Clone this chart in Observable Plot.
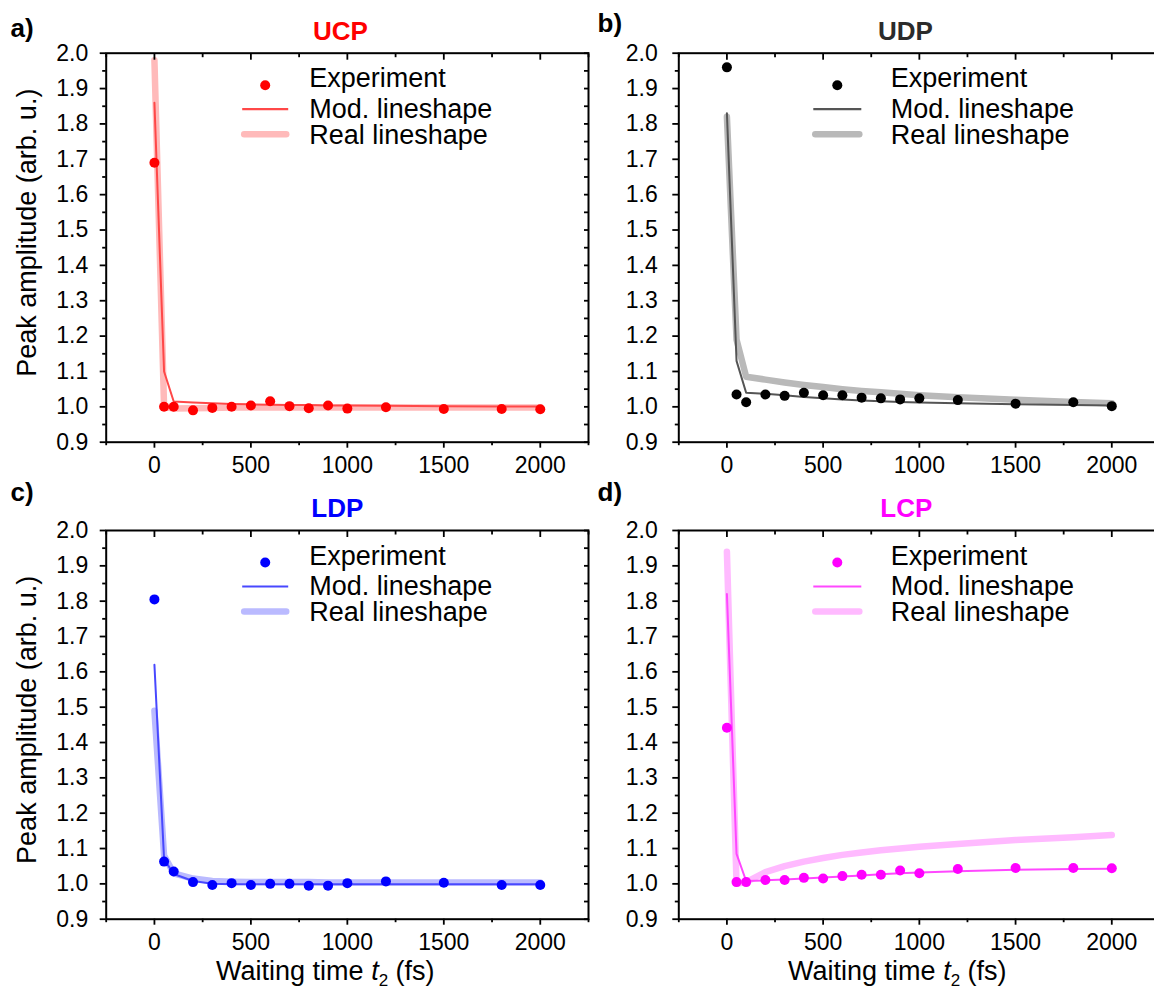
<!DOCTYPE html>
<html><head><meta charset="utf-8">
<script src="https://cdn.jsdelivr.net/npm/d3@7"></script>
<script src="https://cdn.jsdelivr.net/npm/@observablehq/plot@0.6"></script>
<style>
html,body{margin:0;padding:0;background:#fff;}
#root{position:relative;width:1154px;height:994px;overflow:hidden;background:#fff;}
#root > svg{position:absolute;}
</style></head><body><div id="root"></div>
<script>
// ---------- data ----------
const waitingTime = [0, 50, 100, 200, 300, 400, 500, 600, 700, 800, 900, 1000, 1200, 1500, 1800, 2000];

const ucpExperiment = [1.69, 1.000, 1.000, 0.990, 0.997, 1.000, 1.004, 1.016, 1.002, 0.996, 1.004, 0.995, 0.999, 0.994, 0.994, 0.993];
const ucpModLineshape = [1.86, 1.10, 1.015, 1.012, 1.010, 1.008, 1.007, 1.006, 1.005, 1.005, 1.004, 1.004, 1.003, 1.002, 1.001, 1.001];
const ucpRealLineshape = [1.98, 1.00, 0.995, 0.996, 0.997, 0.998, 0.998, 0.998, 0.998, 0.998, 0.998, 0.998, 0.998, 0.998, 0.998, 0.998];

const udpExperiment = [1.96, 1.035, 1.013, 1.035, 1.031, 1.040, 1.033, 1.033, 1.026, 1.024, 1.021, 1.024, 1.019, 1.009, 1.013, 1.002];
const udpModLineshape = [1.83, 1.13, 1.04, 1.037, 1.033, 1.028, 1.024, 1.021, 1.018, 1.016, 1.014, 1.012, 1.010, 1.007, 1.005, 1.004];
const udpRealLineshape = [1.82, 1.19, 1.085, 1.077, 1.069, 1.062, 1.056, 1.050, 1.045, 1.041, 1.037, 1.033, 1.027, 1.020, 1.014, 1.010];

const ldpExperiment = [1.805, 1.063, 1.035, 1.005, 0.997, 1.002, 0.997, 1.000, 1.000, 0.995, 0.995, 1.002, 1.007, 1.003, 0.997, 0.997];
const ldpModLineshape = [1.62, 1.07, 1.028, 1.008, 1.000, 0.999, 0.999, 0.999, 0.999, 0.999, 0.999, 0.999, 0.999, 0.999, 0.999, 0.999];
const ldpRealLineshape = [1.49, 1.08, 1.030, 1.015, 1.008, 1.006, 1.005, 1.005, 1.005, 1.005, 1.004, 1.004, 1.004, 1.004, 1.004, 1.004];

const lcpExperiment = [1.442, 1.005, 1.005, 1.011, 1.011, 1.017, 1.015, 1.022, 1.026, 1.026, 1.038, 1.030, 1.042, 1.045, 1.045, 1.044];
const lcpModLineshape = [1.82, 1.085, 1.008, 1.010, 1.012, 1.015, 1.018, 1.021, 1.024, 1.027, 1.030, 1.032, 1.036, 1.040, 1.042, 1.043];
const lcpRealLineshape = [1.94, 1.00, 1.005, 1.033, 1.050, 1.063, 1.073, 1.082, 1.089, 1.095, 1.100, 1.105, 1.113, 1.124, 1.132, 1.138];

const panelNames = ["UCP", "UDP", "LDP", "LCP"];
const panelLetters = ["a)", "b)", "c)", "d)"];
const legendLabels = ["Experiment", "Mod. lineshape", "Real lineshape"];
const xMajorTicks = [0, 500, 1000, 1500, 2000];
const xMinorTicks = [-250, 250, 750, 1250, 1750, 2250];
const yMajorTicks = [0.9, 1.0, 1.1, 1.2, 1.3, 1.4, 1.5, 1.6, 1.7, 1.8, 1.9, 2.0];
const yMinorTicks = [0.95, 1.05, 1.15, 1.25, 1.35, 1.45, 1.55, 1.65, 1.75, 1.85, 1.95];
const yLabel = "Peak amplitude (arb. u.)";
const xLabel = "Waiting time t2 (fs)";

// ---------- styling / layout ----------
const FONT = "'Liberation Sans', Arial, sans-serif";
const panels = [
  {name: panelNames[0], letter: panelLetters[0], exp: ucpExperiment, mod: ucpModLineshape, real: ucpRealLineshape,
   expColor: "#ff0000", modColor: "#ff4848", realColor: "#ffbaba", titleColor: "#ff0000",
   left: 0, top: 0, width: 600, height: 480, ml: 105.7, mr: 12, mt: 52.7, mb: 38.3,
   xPad: 8, yPad: 12, titleDx: -7, letterDx: -95.7, letterDy: -25, yLab: true, yLabDy: -15, xLab: false,
   legMarker: 159.5, legLine: [136.5, 182.5], legText: 203.5},
  {name: panelNames[1], letter: panelLetters[1], exp: udpExperiment, mod: udpModLineshape, real: udpRealLineshape,
   expColor: "#000000", modColor: "#555555", realColor: "#b9b9b9", titleColor: "#2b2b2b",
   left: 577, top: 0, width: 600, height: 480, ml: 101.3, mr: 17.6, mt: 52.7, mb: 38.3,
   xPad: 8, yPad: 15, titleDx: -14, letterDx: -81.3, letterDy: -30, yLab: false, xLab: false,
   legMarker: 159, legLine: [135, 183], legText: 212.5},
  {name: panelNames[2], letter: panelLetters[2], exp: ldpExperiment, mod: ldpModLineshape, real: ldpRealLineshape,
   expColor: "#0000ff", modColor: "#4848ff", realColor: "#babaff", titleColor: "#0000ff",
   left: 0, top: 477, width: 600, height: 517, ml: 105.7, mr: 12, mt: 53, mb: 75.3,
   xPad: 8, yPad: 12, titleDx: -10, letterDx: -95.7, letterDy: -38, yLab: true, yLabDy: -5, xLab: true,
   legMarker: 159.5, legLine: [136.5, 182.5], legText: 203.5},
  {name: panelNames[3], letter: panelLetters[3], exp: lcpExperiment, mod: lcpModLineshape, real: lcpRealLineshape,
   expColor: "#ff00ff", modColor: "#ff48ff", realColor: "#ffbaff", titleColor: "#ff00ff",
   left: 577, top: 477, width: 600, height: 517, ml: 101.3, mr: 17.6, mt: 53, mb: 75.3,
   xPad: 8, yPad: 15, titleDx: -13, letterDx: -81.3, letterDy: -38, yLab: false, xLab: true,
   legMarker: 159, legLine: [135, 183], legText: 212.5}
];

const root = document.getElementById("root");
const blank = () => "";

panels.forEach(p => {
  const rows = waitingTime.map((t, i) => ({t, exp: p.exp[i], mod: p.mod[i], real: p.real[i]}));
  const tickStyle = {label: null, strokeWidth: 1.8};
  const marks = [
    Plot.line(rows, {x: "t", y: "real", stroke: p.realColor, strokeWidth: 6.5, strokeLinejoin: "round"}),
    Plot.line(rows, {x: "t", y: "mod", stroke: p.modColor, strokeWidth: 2, strokeLinejoin: "round"}),
    Plot.dot(rows, {x: "t", y: "exp", r: 5, fill: p.expColor, stroke: "none"}),
    Plot.frame({stroke: "black", strokeWidth: 2}),
    Plot.axisX(xMajorTicks, {...tickStyle, anchor: "bottom", tickSize: 6, tickPadding: p.xPad, tickFormat: d => String(d), fontSize: 23}),
    Plot.axisX(xMinorTicks, {...tickStyle, anchor: "bottom", tickSize: 3.5, tickFormat: blank}),
    Plot.axisX(xMajorTicks, {...tickStyle, anchor: "top", tickSize: -6, tickFormat: blank}),
    Plot.axisX(xMinorTicks, {...tickStyle, anchor: "top", tickSize: -3.5, tickFormat: blank}),
    Plot.axisY(yMajorTicks, {...tickStyle, anchor: "left", tickSize: 6, tickPadding: p.yPad, tickFormat: d => d.toFixed(1), fontSize: 23}),
    Plot.axisY(yMinorTicks, {...tickStyle, anchor: "left", tickSize: 3.5, tickFormat: blank}),
    Plot.axisY(yMajorTicks, {...tickStyle, anchor: "right", tickSize: -5, tickFormat: blank}),
    Plot.axisY(yMinorTicks, {...tickStyle, anchor: "right", tickSize: -5, tickFormat: blank}),
    Plot.text([p.name], {frameAnchor: "top", textAnchor: "middle", lineAnchor: "middle", dx: p.titleDx, dy: -22, fill: p.titleColor, fontWeight: "bold", fontSize: 26}),
    Plot.text([p.letter], {frameAnchor: "top-left", textAnchor: "start", lineAnchor: "middle", dx: p.letterDx, dy: p.letterDy, fill: "black", fontWeight: "bold", fontSize: 26})
  ];
  if (p.yLab) marks.push(Plot.text([yLabel], {frameAnchor: "left", textAnchor: "middle", lineAnchor: "middle", rotate: -90, dx: -78.7, dy: p.yLabDy, fontSize: 27, fill: "black"}));
  if (p.xLab) marks.push(Plot.text([xLabel], {frameAnchor: "bottom", textAnchor: "middle", lineAnchor: "middle", dx: -22, dy: 52, fontSize: 27, fill: "black"}));

  const svg = Plot.plot({
    width: p.width, height: p.height,
    marginLeft: p.ml, marginRight: p.mr, marginTop: p.mt, marginBottom: p.mb,
    style: {fontFamily: FONT, fontSize: "22px", color: "black", background: "none", overflow: "visible", maxWidth: "none"},
    x: {domain: [-250, 2250]},
    y: {domain: [0.9, 2.0]},
    marks
  });
  svg.style.left = p.left + "px";
  svg.style.top = p.top + "px";

  const s = d3.select(svg);
  // italic t with subscript 2 in the x label
  s.selectAll("text").filter(function() { return this.textContent === xLabel; })
    .each(function() {
      const t = d3.select(this);
      t.text(null);
      t.append("tspan").text("Waiting time ");
      t.append("tspan").attr("font-style", "italic").text("t");
      t.append("tspan").attr("font-size", 17).attr("dy", 6).text("2");
      t.append("tspan").attr("dy", -6).text(" (fs)");
    });

  // legend inside the frame
  const g = s.append("g").attr("font-family", FONT).attr("font-size", 27).attr("fill", "black").attr("text-anchor", "start");
  const fx = p.ml, fy = p.mt;
  g.append("circle").attr("cx", fx + p.legMarker).attr("cy", fy + 32.5).attr("r", 5).attr("fill", p.expColor);
  g.append("line").attr("x1", fx + p.legLine[0]).attr("x2", fx + p.legLine[1])
    .attr("y1", fy + 56.5).attr("y2", fy + 56.5).attr("stroke", p.modColor).attr("stroke-width", 2.2);
  g.append("line").attr("x1", fx + p.legLine[0] + 2).attr("x2", fx + p.legLine[1] - 2)
    .attr("y1", fy + 81.5).attr("y2", fy + 81.5).attr("stroke", p.realColor).attr("stroke-width", 6.5).attr("stroke-linecap", "round");
  const baselines = [34.5, 65, 91];
  legendLabels.forEach((lab, i) => {
    g.append("text").attr("x", fx + p.legText).attr("y", fy + baselines[i]).text(lab);
  });

  root.appendChild(svg);
});
</script>
</body></html>
